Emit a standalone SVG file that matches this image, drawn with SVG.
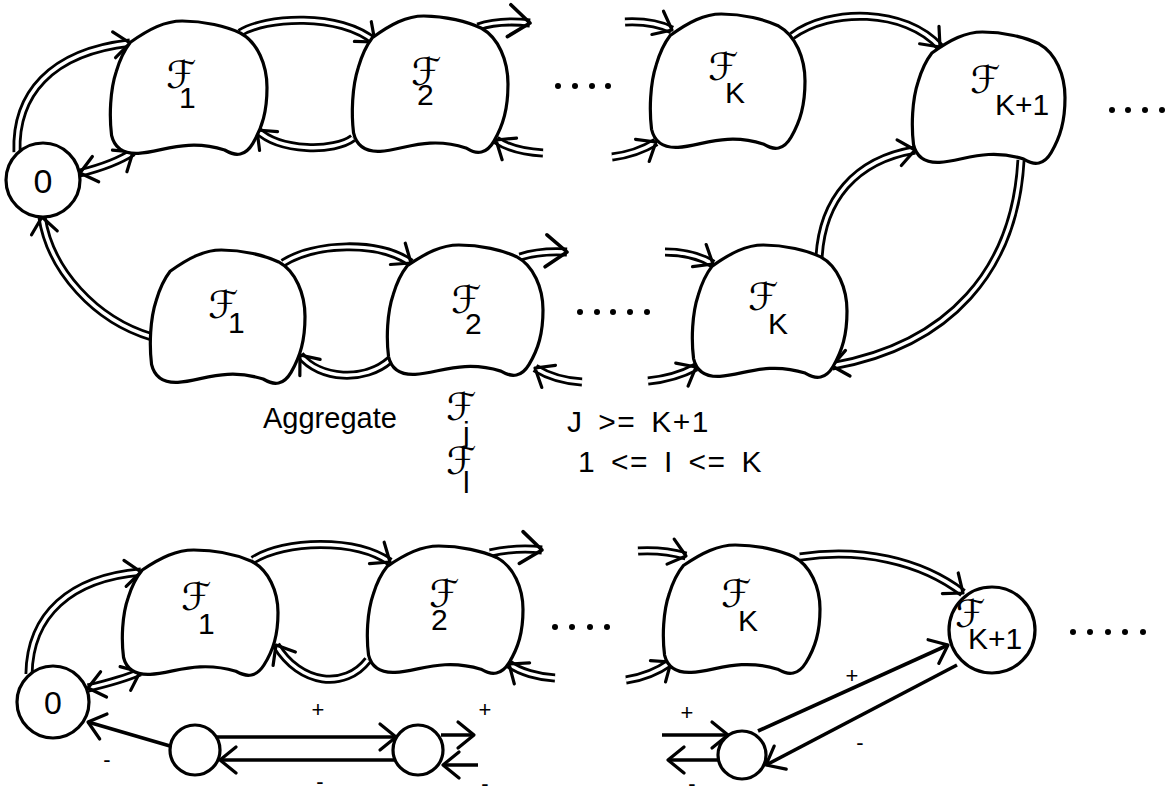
<svg xmlns="http://www.w3.org/2000/svg" xmlns:xlink="http://www.w3.org/1999/xlink" width="1173" height="797" viewBox="0 0 1173 797">
  <style>
    .o { fill: none; stroke: #000; stroke-width: 9; }
    .i { fill: none; stroke: #fff; stroke-width: 3.4; }
    .s { fill: none; stroke: #000; stroke-width: 3.6; }
    .blob { fill: #fff; stroke: #000; stroke-width: 3.2; }
    .circ { fill: #fff; stroke: #000; stroke-width: 3.2; }
    .lbl { font-family: "Liberation Sans", Arial, sans-serif; fill: #000; }
    .sf { font-family: "DejaVu Sans", "DejaVu Serif", serif; font-size: 38px; }
    .sub { font-family: "Liberation Sans", Arial, sans-serif; font-size: 30px; }
    .txt { font-family: "Liberation Sans", Arial, sans-serif; font-size: 29px; fill: #000; }
    .cond { font-family: "Liberation Sans", Arial, sans-serif; font-size: 30px; fill: #000; letter-spacing: 1.5px; word-spacing: 5px; white-space: pre; }
    .pm { font-family: "Liberation Sans", Arial, sans-serif; font-size: 22px; fill: #000; text-anchor: middle; }
    .dot { fill: #000; }
  </style>
  <defs>
    <marker id="ah" markerUnits="userSpaceOnUse" viewBox="-30 -30 60 60" markerWidth="60" markerHeight="60" refX="0" refY="0" orient="auto-start-reverse" overflow="visible">
      <path d="M-16,-13 L0,0 L-16,13" fill="none" stroke="#000" stroke-width="3.2" stroke-linecap="round" stroke-linejoin="round"/>
    </marker>
    <marker id="ahb" markerUnits="userSpaceOnUse" viewBox="-30 -30 60 60" markerWidth="60" markerHeight="60" refX="0" refY="0" orient="auto" overflow="visible">
      <path d="M-21,-16 L0,0 L-21,16" fill="none" stroke="#000" stroke-width="3.6" stroke-linecap="round" stroke-linejoin="round"/>
    </marker>
    <!-- generic hand-drawn region outline in a 100x100 frame -->
    <path id="blob" vector-effect="non-scaling-stroke" d="M13,16 C25,6 35,0 46,0 C60,0 74,4 83,9 C94,16 100,33 100,50 C100,68 97,80 91,92 C89,96 87,99 83,100 C79,101 76,99 73,97 C65,94 58,93 50,93.5 C38,94 28,99 18,99.5 C9,100 3,96 1,86 C-0.5,72 0,52 4,38 C6,30 9,22 13,16 Z"/>
    <!-- double-line connector paths -->
    <path id="c1" d="M17,152 C15,95 50,52 130,43"/>
    <path id="c2" d="M80,173 C100,168 118,162 133,152"/>
    <path id="c3" d="M240,33 C265,17 340,12 375,42"/>
    <path id="c4" d="M353,138 C335,152 280,152 257,130"/>
    <path id="c5" d="M478,27 C495,21 512,21 530,23"/>
    <path id="c6" d="M543,153 C525,152 508,148 496,140"/>
    <path id="c7" d="M625,22 C645,21 660,24 672,30"/>
    <path id="c8" d="M612,157 C628,155 643,150 656,142"/>
    <path id="c9" d="M792,36 C830,8 905,8 940,47"/>
    <path id="c10" d="M1021,160 C1015,270 950,345 832,366"/>
    <path id="c11" d="M819,258 C822,200 855,160 915,150"/>
    <path id="c12" d="M152,337 C95,320 50,270 42,217"/>
    <path id="c13" d="M283,263 C315,243 378,240 411,263"/>
    <path id="c14" d="M390,360 C365,382 320,380 300,355"/>
    <path id="c15" d="M520,257 C535,252 550,251 567,252"/>
    <path id="c16" d="M582,382 C565,381 548,376 535,368"/>
    <path id="c17" d="M665,252 C685,252 700,256 713,264"/>
    <path id="c18" d="M648,381 C668,379 683,374 696,367"/>
    <path id="c19" d="M29,674 C30,615 70,578 141,572"/>
    <path id="c20" d="M88,688 C105,684 122,680 140,672"/>
    <path id="c21" d="M253,560 C285,540 355,538 390,562"/>
    <path id="c22" d="M368,660 C345,690 300,685 276,645"/>
    <path id="c23" d="M490,553 C508,549 525,548 542,550"/>
    <path id="c24" d="M555,678 C538,677 520,672 509,664"/>
    <path id="c25" d="M638,551 C655,550 672,552 686,556"/>
    <path id="c26" d="M626,680 C640,678 657,672 671,662"/>
    <path id="c27" d="M800,557 C860,548 920,560 963,593"/>
  </defs>

  <rect width="1173" height="797" fill="#fff"/>

  <g id="connectors">
    <g id="e-r1-0-f1"><use href="#c1" class="o"/><use href="#c1" class="i" marker-end="url(#ah)"/></g>
    <g id="e-r1-0-f1-back"><use href="#c2" class="o"/><use href="#c2" class="i" marker-start="url(#ah)" marker-end="url(#ah)"/></g>
    <g id="e-r1-f1-f2"><use href="#c3" class="o"/><use href="#c3" class="i" marker-end="url(#ah)"/></g>
    <g id="e-r1-f2-f1"><use href="#c4" class="o"/><use href="#c4" class="i" marker-end="url(#ah)"/></g>
    <g id="e-r1-f2-out"><use href="#c5" class="o"/><use href="#c5" class="i" marker-end="url(#ahb)"/></g>
    <g id="e-r1-f2-in"><use href="#c6" class="o"/><use href="#c6" class="i" marker-end="url(#ah)"/></g>
    <g id="e-r1-fk-in-top"><use href="#c7" class="o"/><use href="#c7" class="i" marker-end="url(#ah)"/></g>
    <g id="e-r1-fk-in-bot"><use href="#c8" class="o"/><use href="#c8" class="i" marker-end="url(#ah)"/></g>
    <g id="e-r1-fk-fk1"><use href="#c9" class="o"/><use href="#c9" class="i" marker-end="url(#ah)"/></g>
    <g id="e-fk1-r2fk"><use href="#c10" class="o"/><use href="#c10" class="i" marker-end="url(#ah)"/></g>
    <g id="e-r2fk-fk1"><use href="#c11" class="o"/><use href="#c11" class="i" marker-end="url(#ah)"/></g>
    <g id="e-r2f1-0"><use href="#c12" class="o"/><use href="#c12" class="i" marker-end="url(#ah)"/></g>
    <g id="e-r2-f1-f2"><use href="#c13" class="o"/><use href="#c13" class="i" marker-end="url(#ah)"/></g>
    <g id="e-r2-f2-f1"><use href="#c14" class="o"/><use href="#c14" class="i" marker-end="url(#ah)"/></g>
    <g id="e-r2-f2-out"><use href="#c15" class="o"/><use href="#c15" class="i" marker-end="url(#ahb)"/></g>
    <g id="e-r2-f2-in"><use href="#c16" class="o"/><use href="#c16" class="i" marker-end="url(#ah)"/></g>
    <g id="e-r2-fk-in-top"><use href="#c17" class="o"/><use href="#c17" class="i" marker-end="url(#ah)"/></g>
    <g id="e-r2-fk-in-bot"><use href="#c18" class="o"/><use href="#c18" class="i" marker-end="url(#ah)"/></g>
    <g id="e-r3-0-f1"><use href="#c19" class="o"/><use href="#c19" class="i" marker-end="url(#ah)"/></g>
    <g id="e-r3-0-f1-back"><use href="#c20" class="o"/><use href="#c20" class="i" marker-start="url(#ah)" marker-end="url(#ah)"/></g>
    <g id="e-r3-f1-f2"><use href="#c21" class="o"/><use href="#c21" class="i" marker-end="url(#ah)"/></g>
    <g id="e-r3-f2-f1"><use href="#c22" class="o"/><use href="#c22" class="i" marker-end="url(#ah)"/></g>
    <g id="e-r3-f2-out"><use href="#c23" class="o"/><use href="#c23" class="i" marker-end="url(#ahb)"/></g>
    <g id="e-r3-f2-in"><use href="#c24" class="o"/><use href="#c24" class="i" marker-end="url(#ah)"/></g>
    <g id="e-r3-fk-in-top"><use href="#c25" class="o"/><use href="#c25" class="i" marker-end="url(#ah)"/></g>
    <g id="e-r3-fk-in-bot"><use href="#c26" class="o"/><use href="#c26" class="i" marker-end="url(#ah)"/></g>
    <g id="e-r3-fk-fk1"><use href="#c27" class="o"/><use href="#c27" class="i" marker-end="url(#ah)"/></g>
    <!-- single-line flows between the small circles -->
    <path id="e-a-0" class="s" d="M170,746 L88,722" marker-end="url(#ah)"/>
    <path id="e-a-b" class="s" d="M216,737 L396,737" marker-end="url(#ah)"/>
    <path id="e-b-a" class="s" d="M397,760 L220,760" marker-end="url(#ah)"/>
    <path id="e-b-out" class="s" d="M441,735 L474,735" marker-end="url(#ah)"/>
    <path id="e-b-in" class="s" d="M478,765 L443,765" marker-end="url(#ah)"/>
    <path id="e-c-in" class="s" d="M662,735 L728,735" marker-end="url(#ah)"/>
    <path id="e-c-out" class="s" d="M719,760 L668,760" marker-end="url(#ah)"/>
    <path id="e-c-fk1" class="s" d="M758,731 L948,645" marker-end="url(#ah)"/>
    <path id="e-fk1-c" class="s" d="M957,665 L766,765" marker-end="url(#ah)"/>
  </g>

  <!-- top row -->
  <g id="n-r1-zero"><circle class="circ" cx="43" cy="180" r="37"/><text class="lbl" x="43" y="193" text-anchor="middle" font-size="34">0</text></g>
  <g id="n-r1-f1"><use href="#blob" class="blob" transform="translate(110,21) scale(1.57,1.33)"/><text class="lbl"><tspan class="sf" x="166" y="88">ℱ</tspan><tspan class="sub" x="179" y="108">1</tspan></text></g>
  <g id="n-r1-f2"><use href="#blob" class="blob" transform="translate(352,16) scale(1.56,1.36)"/><text class="lbl"><tspan class="sf" x="411" y="85">ℱ</tspan><tspan class="sub" x="417" y="105">2</tspan></text></g>
  <g id="n-r1-fk"><use href="#blob" class="blob" transform="translate(650,14) scale(1.55,1.34)"/><text class="lbl"><tspan class="sf" x="708" y="80">ℱ</tspan><tspan class="sub" x="725" y="103">K</tspan></text></g>
  <g id="n-r1-fk1"><use href="#blob" class="blob" transform="translate(912,32) scale(1.53,1.31)"/><text class="lbl"><tspan class="sf" x="970" y="93">ℱ</tspan><tspan class="sub" x="995" y="115">K+1</tspan></text></g>

  <!-- middle row -->
  <g id="n-r2-f1"><use href="#blob" class="blob" transform="translate(150,250) scale(1.55,1.33)"/><text class="lbl"><tspan class="sf" x="208" y="318">ℱ</tspan><tspan class="sub" x="228" y="333">1</tspan></text></g>
  <g id="n-r2-f2"><use href="#blob" class="blob" transform="translate(387,245) scale(1.56,1.30)"/><text class="lbl"><tspan class="sf" x="451" y="313">ℱ</tspan><tspan class="sub" x="465" y="334">2</tspan></text></g>
  <g id="n-r2-fk"><use href="#blob" class="blob" transform="translate(692,245) scale(1.55,1.32)"/><text class="lbl"><tspan class="sf" x="748" y="310">ℱ</tspan><tspan class="sub" x="768" y="334">K</tspan></text></g>

  <!-- bottom row -->
  <g id="n-r3-zero"><circle class="circ" cx="53" cy="702" r="36"/><text class="lbl" x="53" y="714" text-anchor="middle" font-size="32">0</text></g>
  <g id="n-r3-f1"><use href="#blob" class="blob" transform="translate(122,550) scale(1.56,1.25)"/><text class="lbl"><tspan class="sf" x="181" y="610">ℱ</tspan><tspan class="sub" x="198" y="634">1</tspan></text></g>
  <g id="n-r3-f2"><use href="#blob" class="blob" transform="translate(367,546) scale(1.56,1.27)"/><text class="lbl"><tspan class="sf" x="429" y="607">ℱ</tspan><tspan class="sub" x="431" y="630">2</tspan></text></g>
  <g id="n-r3-fk"><use href="#blob" class="blob" transform="translate(663,545) scale(1.57,1.28)"/><text class="lbl"><tspan class="sf" x="721" y="607">ℱ</tspan><tspan class="sub" x="738" y="631">K</tspan></text></g>
  <g id="n-r3-fk1"><circle class="circ" cx="992" cy="630" r="43"/><text class="lbl"><tspan class="sf" x="955" y="627" font-size="33">ℱ</tspan><tspan class="sub" x="968" y="649" font-size="27">K+1</tspan></text></g>
  <g id="n-a"><circle class="circ" cx="195" cy="750" r="25"/></g>
  <g id="n-b"><circle class="circ" cx="418" cy="750" r="25"/></g>
  <g id="n-c"><circle class="circ" cx="742" cy="755" r="24"/></g>

  <!-- ellipsis dots -->
  <g id="dots">
    <circle class="dot" cx="558" cy="86" r="3"/><circle class="dot" cx="575" cy="86" r="3"/><circle class="dot" cx="592" cy="86" r="3"/><circle class="dot" cx="608" cy="86" r="3"/>
    <circle class="dot" cx="1112" cy="110" r="3"/><circle class="dot" cx="1128" cy="110" r="3"/><circle class="dot" cx="1145" cy="110" r="3"/><circle class="dot" cx="1162" cy="110" r="3"/>
    <circle class="dot" cx="580" cy="312" r="3"/><circle class="dot" cx="597" cy="312" r="3"/><circle class="dot" cx="613" cy="312" r="3"/><circle class="dot" cx="630" cy="312" r="3"/><circle class="dot" cx="647" cy="312" r="3"/>
    <circle class="dot" cx="555" cy="627" r="3"/><circle class="dot" cx="572" cy="627" r="3"/><circle class="dot" cx="590" cy="627" r="3"/><circle class="dot" cx="607" cy="627" r="3"/>
    <circle class="dot" cx="1073" cy="632" r="3"/><circle class="dot" cx="1090" cy="632" r="3"/><circle class="dot" cx="1108" cy="632" r="3"/><circle class="dot" cx="1125" cy="632" r="3"/><circle class="dot" cx="1143" cy="632" r="3"/>
  </g>

  <!-- aggregation legend -->
  <g id="legend">
    <text class="txt" x="263" y="428">Aggregate</text>
    <text class="lbl"><tspan class="sf" x="446" y="420">ℱ</tspan><tspan class="sub" x="463" y="443" font-size="24">j</tspan></text>
    <text class="cond" x="567" y="432">J &gt;= K+1</text>
    <text class="lbl"><tspan class="sf" x="446" y="474">ℱ</tspan><tspan class="sub" x="463" y="493" font-size="26">l</tspan></text>
    <text class="cond" x="578" y="472">1 &lt;= I &lt;= K</text>
  </g>

  <!-- flow signs -->
  <g id="signs">
    <text class="pm" x="318" y="717">+</text>
    <text class="pm" x="320" y="789">-</text>
    <text class="pm" x="107" y="767">-</text>
    <text class="pm" x="485" y="717">+</text>
    <text class="pm" x="485" y="791">-</text>
    <text class="pm" x="687" y="720">+</text>
    <text class="pm" x="692" y="791">-</text>
    <text class="pm" x="852" y="683">+</text>
    <text class="pm" x="860" y="750">-</text>
  </g>
</svg>
